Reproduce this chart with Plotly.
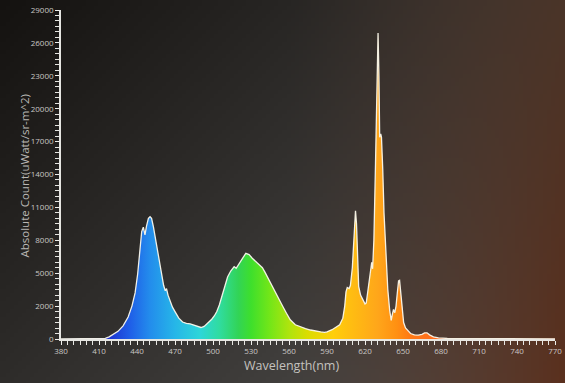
import base64
import struct
import zlib

import plotly.graph_objects as go

# ---- spectrum data ----------------------------------------------------------
wavelength_nm = [
    380, 410, 415, 418, 421, 425, 429, 433, 436, 438.5, 440.5, 442.4, 443.7,
    445, 446.3, 447.5, 449, 450.3, 451.5, 453, 455, 457, 459, 461, 462.3,
    463.3, 464.5, 466, 468, 470, 473, 476, 479, 482, 485, 488, 490.5, 493,
    496, 499, 501, 503, 505, 507, 509, 511.5, 514, 516.7, 518.3, 520, 523.3,
    525.9, 528.5, 531, 533, 535, 537, 539, 541, 543, 546, 548, 551, 554.7,
    558, 561, 565, 569, 573, 577, 581, 585, 588, 590, 594, 597.7, 600, 602.5,
    604, 605, 606, 607.5, 608.5, 610, 611.2, 612.5, 613.3, 614, 615, 616.5,
    618.5, 620, 621, 622.5, 624, 624.8, 625.3, 626, 627, 628.3, 629.5, 630.3,
    631, 631.6, 632.4, 633, 634, 635, 636.5, 638, 639.5, 640.7, 641.5, 642.5,
    643.5, 644.5, 645.5, 646.5, 647.3, 648, 649, 650.5, 652, 654, 656, 659,
    662, 665, 667, 669, 671, 674, 678, 685, 700, 770,
]
absolute_count = [
    0, 0, 60, 200, 420, 700, 1200, 2000, 3000, 4200, 5900, 8000, 9800,
    10200, 9500, 10300, 11000, 11150, 11000, 10200, 8800, 7300, 6000, 4900,
    4400, 4600, 4000, 3500, 2900, 2500, 1900, 1550, 1420, 1380, 1250, 1100,
    1050, 1150, 1450, 1800, 2100, 2500, 3100, 3900, 4800, 5650, 6200, 6600,
    6450, 6800, 7360, 7810, 7700, 7360, 7150, 7000, 6800, 6500, 6100, 5650,
    4950, 4450, 3750, 3050, 2350, 1750, 1300, 1100, 950, 820, 700, 650, 600,
    650, 850, 1120, 1300, 1900, 3000, 4300, 4700, 4600, 4900, 6500, 9000,
    11700, 10500, 7000, 4800, 4000, 3500, 3200, 3300, 4500, 5800, 6300, 7000,
    6400, 9000, 16000, 24000, 27900, 24000, 18400, 18700, 18400, 15500,
    11500, 8000, 4500, 2600, 1700, 2200, 2700, 2400, 3000, 4200, 5300, 5350,
    4500, 2800, 1500, 1000, 700, 500, 380, 350, 420, 560, 560, 380, 200, 100,
    50, 30, 20,
]

# ---- axis ticks -------------------------------------------------------------
x_tick_vals = list(range(380, 771, 30))
y_tick_vals = list(range(0, 30001, 3000))
y_tick_text = ["0", "2000", "5000", "8000", "11000", "14000", "17000",
               "20000", "23000", "26000", "29000"]

# wavelength -> colour stops for the fill
spectrum_stops = [
    (415, "#1c2ccc"), (435, "#1f60e8"), (450, "#238cec"), (470, "#26b6e8"),
    (490, "#2ed6d8"), (505, "#30dca0"), (520, "#32d456"), (530, "#3edf2c"),
    (545, "#74e618"), (560, "#aee40e"), (575, "#dcdc00"), (595, "#ffce0a"),
    (610, "#ffbc12"), (630, "#ffa61a"), (645, "#ff9012"), (655, "#ff7a14"),
    (680, "#ff6a20"),
]

W, H = 565, 383


def background_png(w=141, h=96):
    """Dark, warm-edged backdrop encoded as a small PNG data URI."""
    rows = b""
    for j in range(h):
        v = j / (h - 1)
        row = bytearray([0])
        for i in range(w):
            u = i / (w - 1)
            lum = 18 + 38 * u + 26 * v
            base = (lum + 2, lum, lum - 2)
            warm = (74 + 16 * v, 52 - 4 * v, 40 - 10 * v)
            t = max(0.0, (u - 0.5) / 0.5) ** 1.3
            px = [int(round(base[k] * (1 - t) + warm[k] * t)) for k in range(3)]
            row += bytes(max(0, min(255, c)) for c in px)
        rows += bytes(row)

    def chunk(tag, data):
        c = struct.pack(">I", len(data)) + tag + data
        return c + struct.pack(">I", zlib.crc32(tag + data) & 0xFFFFFFFF)

    png = b"\x89PNG\r\n\x1a\n"
    png += chunk(b"IHDR", struct.pack(">IIBBBBB", w, h, 8, 2, 0, 0, 0))
    png += chunk(b"IDAT", zlib.compress(rows, 9))
    png += chunk(b"IEND", b"")
    return "data:image/png;base64," + base64.b64encode(png).decode()


lo, hi = spectrum_stops[0][0], spectrum_stops[-1][0]
colorscale = [[(nm - lo) / (hi - lo), c] for nm, c in spectrum_stops]

fig = go.Figure()
fig.add_trace(go.Scatter(
    x=wavelength_nm,
    y=absolute_count,
    mode="lines",
    line=dict(color="rgba(250,248,236,0.95)", width=1.3),
    fill="tozeroy",
    fillgradient=dict(type="horizontal", colorscale=colorscale,
                      start=lo, stop=hi),
    hoverinfo="skip",
    showlegend=False,
))

tick_font = dict(family="Open Sans, Lato, sans-serif", size=8, color="#c9c7c4")
axis_color = "rgba(240,240,236,0.95)"

fig.update_layout(
    width=W, height=H,
    margin=dict(l=0, r=0, t=0, b=0),
    paper_bgcolor="#2a2827",
    plot_bgcolor="rgba(0,0,0,0)",
    template="none",
    images=[dict(source=background_png(), xref="paper", yref="paper",
                 x=0, y=1, sizex=1, sizey=1, sizing="stretch",
                 xanchor="left", yanchor="top", layer="below")],
    xaxis=dict(
        domain=[61 / W, 555 / W], range=[380, 770], automargin=False,
        tickmode="array", tickvals=x_tick_vals, tickfont=tick_font,
        ticklabeloverflow="allow",
        ticks="outside", ticklen=4, tickwidth=1.3, tickcolor=axis_color,
        minor=dict(dtick=5, tick0=380, ticks="outside", ticklen=4,
                   tickwidth=1.3, tickcolor=axis_color, showgrid=False),
        showline=True, linecolor=axis_color, linewidth=1.6,
        showgrid=False, zeroline=False,
    ),
    yaxis=dict(
        domain=[(H - 339) / H, (H - 10) / H], range=[0, 30000],
        automargin=False,
        tickmode="array", tickvals=y_tick_vals, ticktext=y_tick_text,
        tickfont=tick_font, ticklabeloverflow="allow",
        ticks="outside", ticklen=4, tickwidth=1.3, tickcolor=axis_color,
        minor=dict(dtick=500, tick0=0, ticks="outside", ticklen=4,
                   tickwidth=1.3, tickcolor=axis_color, showgrid=False),
        showline=True, linecolor=axis_color, linewidth=1.6,
        showgrid=False, zeroline=False,
    ),
    annotations=[
        dict(text="Wavelength(nm)", xref="paper", yref="paper",
             x=291 / W, y=(H - 376) / H, showarrow=False,
             font=dict(family="Open Sans, sans-serif", size=12.5,
                       color="#c4c2bf")),
        dict(text="Absolute Count(uWatt/sr-m^2)", xref="paper",
             yref="paper", x=14 / W, y=(H - 176) / H, textangle=-90,
             showarrow=False,
             font=dict(family="Open Sans, sans-serif", size=11.5,
                       color="#b9b7b4")),
    ],
)

fig.write_html("out.html")
